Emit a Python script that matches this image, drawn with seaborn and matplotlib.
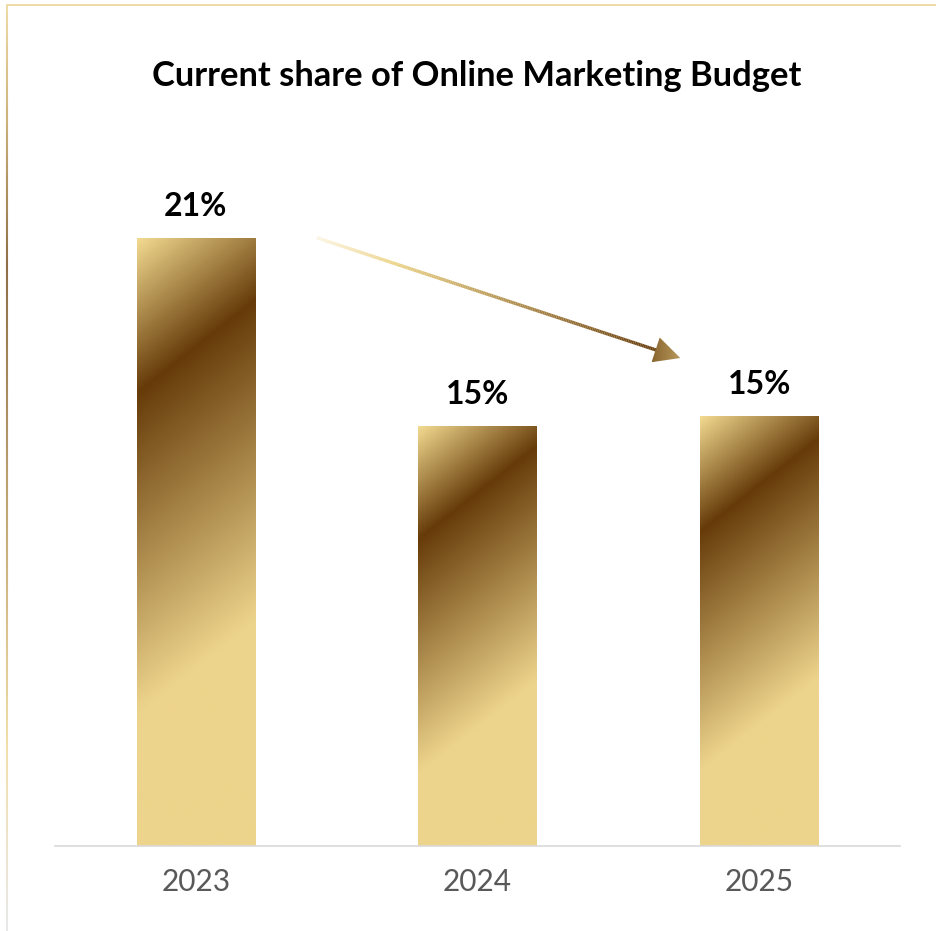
import numpy as np
import pandas as pd
import matplotlib
matplotlib.use("Agg")
import matplotlib.pyplot as plt
import seaborn as sns
from matplotlib.colors import LinearSegmentedColormap
from matplotlib.collections import LineCollection
from matplotlib.patches import Polygon

# ---- data -------------------------------------------------------------
years = ["2023", "2024", "2025"]
share = [21.0, 14.52, 14.85]          # percent of the marketing budget
title = "Current share of Online Marketing Budget"

# ---- styling ----------------------------------------------------------
sns.set_theme(style="white")
plt.rcParams["font.family"] = ["Lato", "DejaVu Sans"]

gold_bar = LinearSegmentedColormap.from_list(
    "gold_bar",
    [(0.0, "#F2DA90"), (0.22, "#663B09"), (0.68, "#EDD48C"), (1.0, "#EDD48C")],
)
gold_arrow = LinearSegmentedColormap.from_list(
    "gold_arrow",
    [(0.0, "#FBF5E2"), (0.22, "#EDD489"), (1.0, "#6A400F")],
)
gold_head = LinearSegmentedColormap.from_list("gold_head", ["#8A6630", "#B8995C"])
gold_frame = LinearSegmentedColormap.from_list(
    "gold_frame",
    [(0.0, "#EEDAA5"), (0.12, "#CDB27C"), (0.28, "#8F6E45"),
     (0.55, "#C2A776"), (0.8, "#F1DEAA"), (1.0, "#E8E8E8")],
)

W, H, DPI = 936, 931, 100
fig = plt.figure(figsize=(W / DPI, H / DPI), dpi=DPI)
ax = fig.add_axes([55 / W, 85 / H, 845 / W, 724 / H])

df = pd.DataFrame({"year": years, "share": share})
sns.barplot(data=df, x="year", y="share", ax=ax, width=0.42,
            color="#EDD48C", saturation=1, errorbar=None)
ax.set_xlim(-0.5, 2.5)
ax.set_ylim(0, 25)

# pixels per data unit, for gradients laid out in screen space
px_x = ax.transData.transform((1, 0))[0] - ax.transData.transform((0, 0))[0]
px_y = ax.transData.transform((0, 1))[1] - ax.transData.transform((0, 0))[1]

# diagonal gradient fill on every bar
d = np.array([0.616, 0.788])
for bar in ax.patches:
    x0, y0 = bar.get_x(), bar.get_y()
    w, h = bar.get_width(), bar.get_height()
    wp, hp = w * px_x, h * px_y
    nx, ny = max(int(wp), 2), max(int(hp), 2)
    u = np.linspace(0, wp, nx)[None, :]
    v = np.linspace(0, hp, ny)[:, None]
    t = (u * d[0] + v * d[1]) / (wp * d[0] + hp * d[1])
    im = ax.imshow(gold_bar(t), extent=(x0, x0 + w, y0, y0 + h),
                   origin="upper", aspect="auto", zorder=bar.get_zorder() + 0.1,
                   interpolation="bilinear")
    im.set_clip_path(bar)

# value labels
for i, v in enumerate(share):
    ax.annotate(f"{v:.0f}%", (i, v), xytext=(0, 15.8), textcoords="offset points",
                ha="center", va="baseline", fontsize=23, fontweight="bold",
                color="#000000")

# trend arrow from the 2023 level down towards 2025
start = np.array([0.43, share[0]])
tip = np.array([2 - 0.28, share[2] + 2.0])
to_px = np.array([px_x, px_y])
vec_px = (tip - start) * to_px
length = np.hypot(*vec_px)
unit = vec_px / length
normal = np.array([-unit[1], unit[0]])
head_len, head_half = 26.0, 13.0
base = tip - unit * head_len / to_px

n = 200
pts = start + (base + unit * 2 / to_px - start) * np.linspace(0, 1, n)[:, None]
segs = np.stack([pts[:-1], pts[1:]], axis=1)
lc = LineCollection(segs, colors=gold_arrow(np.linspace(0, 1, n - 1)),
                    linewidths=2.4, capstyle="butt", zorder=5)
ax.add_collection(lc)

corners = np.array([tip,
                    base + normal * head_half / to_px,
                    base - normal * head_half / to_px])
head = Polygon(corners, closed=True, facecolor="none", edgecolor="none", zorder=5)
ax.add_patch(head)
xmin, ymin = corners.min(axis=0)
xmax, ymax = corners.max(axis=0)
grad = np.linspace(0, 1, 64)[None, :].repeat(8, axis=0)
him = ax.imshow(gold_head(grad), extent=(xmin, xmax, ymin, ymax), origin="upper",
                aspect="auto", zorder=5)
him.set_clip_path(head)
ax.set_xlim(-0.5, 2.5)
ax.set_ylim(0, 25)

# axes cosmetics
for side in ["top", "right", "left"]:
    ax.spines[side].set_visible(False)
ax.spines["bottom"].set_color("#D9D9D9")
ax.spines["bottom"].set_linewidth(1.2)
ax.set_yticks([])
ax.set_xlabel("")
ax.set_ylabel("")
ax.tick_params(axis="x", length=0, pad=16, labelsize=21.5, labelcolor="#595959")
ax.set_facecolor("none")

fig.text(476.5 / W, 1 - 86 / H, title, ha="center", va="baseline",
         fontsize=24.8, fontweight="bold", color="#000000")

# chart-area frame: top edge plus a shaded left edge
fig.add_artist(plt.Line2D([6.5 / W, 1.0], [1 - 5 / H, 1 - 5 / H],
                          transform=fig.transFigure, color="#EEDAA5", lw=1.4))
ys = np.linspace(1 - 5 / H, 0, 300)
fsegs = np.stack([np.column_stack([np.full(299, 6.5 / W), ys[:-1]]),
                  np.column_stack([np.full(299, 6.5 / W), ys[1:]])], axis=1)
fig.add_artist(LineCollection(fsegs, colors=gold_frame(np.linspace(0, 1, 299)),
                              linewidths=1.5, transform=fig.transFigure))

fig.savefig("out.png", dpi=DPI)
